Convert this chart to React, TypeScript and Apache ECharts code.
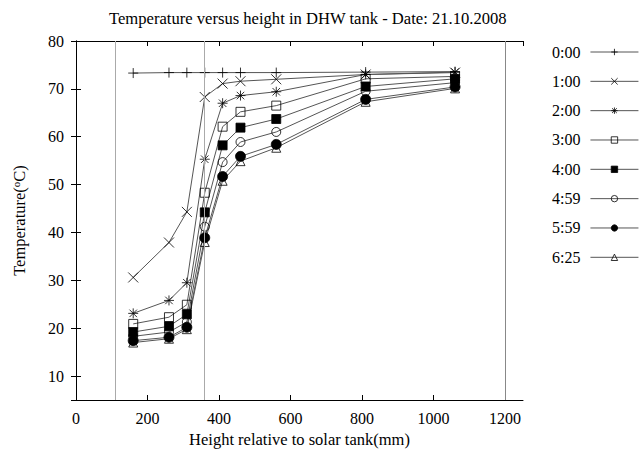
import React, { useEffect, useRef } from "react";
import * as echarts from "echarts";

const heights = [160, 260, 310, 360, 410, 460, 560, 810, 1060];
const seriesNames = ["0:00", "1:00", "2:00", "3:00", "4:00", "4:59", "5:59", "6:25"];
const t0000 = [73.3, 73.4, 73.4, 73.4, 73.4, 73.4, 73.4, 73.5, 73.6];
const t0100 = [30.6, 37.9, 44.3, 68.3, 71.1, 71.6, 72.0, 73.0, 73.4];
const t0200 = [23.1, 25.8, 29.5, 55.3, 67.0, 68.6, 69.4, 73.0, 73.5];
const t0300 = [20.9, 22.3, 24.9, 48.3, 62.1, 65.2, 66.5, 72.1, 72.6];
const t0400 = [19.2, 20.4, 22.9, 44.2, 58.2, 61.9, 63.7, 70.5, 72.1];
const t0459 = [18.3, 19.2, 21.3, 41.2, 54.7, 58.9, 61.0, 69.5, 71.3];
const t0559 = [17.4, 18.1, 20.2, 38.9, 51.7, 55.9, 58.4, 67.8, 70.4];
const t0625 = [17.0, 17.8, 19.8, 38.0, 50.8, 54.9, 57.7, 67.3, 70.1];
const allValues = [t0000, t0100, t0200, t0300, t0400, t0459, t0559, t0625];
const markerLines = [110, 360, 1200];

const FONT = "'Liberation Serif', 'Times New Roman', serif";

const symbols = [
  "path://M0,-1L0,1M-1,0L1,0",
  "path://M-1,-1L1,1M-1,1L1,-1",
  "path://M0,-1L0,1M-1,0L1,0M-0.75,-0.75L0.75,0.75M-0.75,0.75L0.75,-0.75",
  "path://M-1,-1L1,-1L1,1L-1,1Z",
  "rect",
  "path://M1,0A1,1,0,1,1,-1,0A1,1,0,1,1,1,0Z",
  "circle",
  "path://M0,-1L1,0.8L-1,0.8Z",
];
const symbolSizes = [10, 10, 10, 9, 9, 9, 10, 9];
const hollow = [true, true, true, true, false, true, false, true];

export default function App() {
  const ref = useRef<HTMLDivElement>(null);
  useEffect(() => {
    if (!ref.current) return;
    const chart = echarts.init(ref.current, null, { renderer: "svg" });
    const series: any[] = seriesNames.map((name, i) => ({
      name,
      type: "line",
      data: heights.map((h, j) => [h, allValues[i][j]]),
      symbol: symbols[i],
      symbolSize: symbolSizes[i],
      showAllSymbol: true,
      lineStyle: { color: "#555", width: 1 },
      itemStyle: {
        color: hollow[i] ? "rgba(0,0,0,0)" : "#000",
        borderColor: "#000",
        borderWidth: 0.8,
      },
      emphasis: { disabled: true },
      z: 3,
    }));
    series.push({
      name: "refs",
      type: "line",
      data: [],
      markLine: {
        silent: true,
        symbol: "none",
        label: { show: false },
        data: markerLines.map((v, i) => ({
          xAxis: v,
          lineStyle: { color: i < 2 ? "#aaa" : "#888", width: 1, type: "solid" },
        })),
      },
    });
    const axisCommon = {
      axisLine: { show: true, lineStyle: { color: "#000", width: 1 } },
      axisTick: { show: true, inside: true, length: 5, lineStyle: { color: "#000" } },
      splitLine: { show: false },
    };
    const txt = { fontFamily: FONT, fontWeight: "normal", fontStyle: "normal", color: "#000" };
    chart.setOption({
      animation: false,
      backgroundColor: "#fff",
      textStyle: { ...txt },
      title: {
        text: "Temperature versus height in DHW tank - Date: 21.10.2008",
        left: 104,
        top: 5,
        textStyle: { ...txt, fontSize: 16.6 },
      },
      legend: {
        orient: "vertical",
        left: 547,
        top: 39,
        align: "right",
        data: seriesNames,
        itemWidth: 48,
        itemHeight: 8,
        itemGap: 13.33,
        selectedMode: false,
        lineStyle: { width: 1, color: "#555" },
        itemStyle: { borderWidth: 0.8 },
        textStyle: { ...txt, fontSize: 16, padding: [0, 5, 0, 0] },
      },
      grid: { left: 76, right: 117, top: 41, bottom: 54 },
      xAxis: [
        {
          type: "value",
          min: 0,
          max: 1250,
          interval: 200,
          position: "bottom",
          name: "Height relative to solar tank(mm)",
          nameLocation: "middle",
          nameGap: 25,
          nameTextStyle: { ...txt, fontSize: 16.5 },
          axisLabel: {
            ...txt,
            fontSize: 16,
            margin: 10,
            showMaxLabel: false,
            formatter: (v: number) => (v % 200 === 0 ? String(v) : ""),
          },
          ...axisCommon,
        },
        {
          type: "value",
          min: 0,
          max: 1250,
          interval: 200,
          position: "top",
          axisLabel: { show: false },
          ...axisCommon,
        },
      ],
      yAxis: [
        {
          type: "value",
          min: 5,
          max: 80,
          splitNumber: 8,
          position: "left",
          name: "Temperature({sup|o}C)",
          nameLocation: "middle",
          nameGap: 48,
          nameRotate: 90,
          nameTextStyle: {
            ...txt,
            fontSize: 16.5,
            rich: {
              sup: { ...txt, fontSize: 11, verticalAlign: "top", padding: [0, 0, 7, 0] },
            },
          },
          axisLabel: {
            ...txt,
            fontSize: 16,
            margin: 12,
            showMinLabel: false,
            formatter: (v: number) => (v % 10 === 0 ? String(v) : ""),
          },
          ...axisCommon,
        },
        {
          type: "value",
          min: 5,
          max: 80,
          splitNumber: 8,
          position: "right",
          axisLabel: { show: false },
          ...axisCommon,
        },
      ],
      series,
    });
    return () => chart.dispose();
  }, []);
  return <div ref={ref} style={{ width: 640, height: 454, position: "absolute", left: 0, top: 0 }} />;
}
